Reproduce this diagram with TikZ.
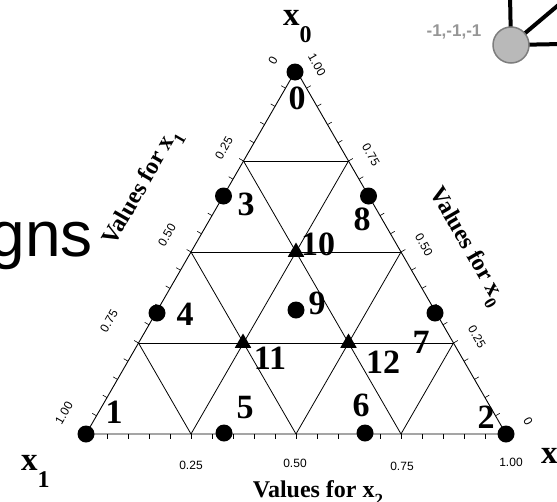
\documentclass[tikz,border=0pt]{standalone}
\usepackage{fontspec}
\setmainfont{Liberation Serif}
\setsansfont{Liberation Sans}
\usetikzlibrary{shapes.geometric}
\definecolor{ballfill}{RGB}{185,185,185}
\definecolor{ballline}{RGB}{125,125,125}
\definecolor{labgray}{RGB}{150,150,150}
\begin{document}
\begin{tikzpicture}[x=1pt,y=-1pt,
  edge/.style={line width=0.9pt},
  gridline/.style={line width=0.8pt},
  tickmark/.style={line width=0.6pt},
  dotpt/.style={circle,fill=black,inner sep=0pt,minimum size=17pt},
  tript/.style={regular polygon,regular polygon sides=3,fill=black,inner sep=0pt,minimum size=19pt},
  num/.style={font=\fontsize{34}{34}\selectfont\bfseries,inner sep=0pt},
  ticklab/.style={font=\sffamily\fontsize{12}{12}\selectfont,inner sep=0pt},
  axlab/.style={font=\fontsize{24}{24}\selectfont\bfseries,inner sep=0pt},
  cornerlab/.style={font=\fontsize{33}{33}\selectfont\bfseries,inner sep=0pt},
]
\fill[white] (0,0) rectangle (557,501);
\useasboundingbox (0,0) rectangle (557,501);

% slide title fragment
\node[font=\sffamily\fontsize{64}{64}\selectfont,inner sep=0pt,anchor=base east] (title) at (93,256) {gns};

% corner decoration
\coordinate (up) at (510,-5);
\coordinate (diag) at (562,2);
\coordinate (right) at (562,44);
\node[circle,minimum size=36pt,inner sep=0pt] (ballpos) at (511,45) {};
\draw[line width=4pt] (ballpos.center) -- (up);
\draw[line width=4pt] (ballpos.center) -- (diag);
\draw[line width=4pt] (ballpos.center) -- (right);
\node[circle,minimum size=36pt,inner sep=0pt,fill=ballfill,draw=ballline,line width=1.5pt] (ball) at (511,45) {};
\node[font=\sffamily\bfseries\fontsize{17}{17}\selectfont,text=labgray,inner sep=0pt] (balllab) at (454,32) {-1,-1,-1};

% triangle corners and grid points
\coordinate (A) at (296,70);
\coordinate (B) at (86,434);
\coordinate (C) at (506,434);
\coordinate (L1) at (243.5,161);
\coordinate (L2) at (191,252);
\coordinate (L3) at (138.5,343);
\coordinate (R1) at (348.5,161);
\coordinate (R2) at (401,252);
\coordinate (R3) at (453.5,343);
\coordinate (b1) at (191,434);
\coordinate (b2) at (296,434);
\coordinate (b3) at (401,434);

\draw[gridline] (L1) -- (R1) (L2) -- (R2) (L3) -- (R3);
\draw[gridline] (b1) -- (R1) (b2) -- (R2) (b3) -- (R3);
\draw[gridline] (b3) -- (L1) (b2) -- (L2) (b1) -- (L3);
\draw[edge] (A) -- (B) -- (C) -- cycle;

% ticks
\foreach \i in {0,...,20} {
  \draw[tickmark] ({296-10.5*\i},{70+18.2*\i}) -- ++(-4.3,-2.5);
  \draw[tickmark] ({296+10.5*\i},{70+18.2*\i}) -- ++(4.3,-2.5);
  \draw[tickmark] ({86+21*\i},434) -- ++(0,5);
}

% tick labels, left edge (x1)
\node[ticklab,rotate=60] (tl0) at (273,61) {0};
\node[ticklab,rotate=60] (tl1) at (224,148) {0.25};
\node[ticklab,rotate=60] (tl2) at (167,235) {0.50};
\node[ticklab,rotate=60] (tl3) at (109,321) {0.75};
\node[ticklab,rotate=60] (tl4) at (64,413) {1.00};
% right edge (x0)
\node[ticklab,rotate=-60] (tr0) at (317,65) {1.00};
\node[ticklab,rotate=-60] (tr1) at (371,155) {0.75};
\node[ticklab,rotate=-60] (tr2) at (424,245) {0.50};
\node[ticklab,rotate=-60] (tr3) at (477,337) {0.25};
\node[ticklab,rotate=-60] (tr4) at (528,421) {0};
% bottom edge (x2)
\node[ticklab] (tb1) at (191,465) {0.25};
\node[ticklab] (tb2) at (295,463) {0.50};
\node[ticklab] (tb3) at (402,466) {0.75};
\node[ticklab] (tb4) at (511,462) {1.00};

% axis titles
\node[axlab,rotate=60] (axl) at (143,188) {Values for x\raisebox{-0.35em}{\fontsize{17}{17}\selectfont 1}};
\node[axlab,rotate=-60] (axr) at (466,247) {Values for x\raisebox{-0.35em}{\fontsize{17}{17}\selectfont 0}};
\node[axlab,anchor=base] (axb) at (318,497) {Values for x\raisebox{-0.35em}{\fontsize{17}{17}\selectfont 2}};

% corner labels
\node[cornerlab,anchor=base west] (cx0) at (283,25) {x\raisebox{-17pt}{\fontsize{24}{24}\selectfont 0}};
\node[cornerlab,anchor=base west] (cx1) at (21,470) {x\raisebox{-17pt}{\fontsize{24}{24}\selectfont 1}};
\node[cornerlab,anchor=base west] (cx2) at (541,463) {x};

% design points
\node[dotpt] (d0) at (295,72) {};
\node[dotpt] (d1) at (B) {};
\node[dotpt] (d2) at (C) {};
\node[dotpt] (d3) at (223.5,196) {};
\node[dotpt] (d4) at (157,313) {};
\node[dotpt] (d5) at (224,433) {};
\node[dotpt] (d6) at (365,433) {};
\node[dotpt] (d7) at (435,313) {};
\node[dotpt] (d8) at (368.5,196) {};
\node[dotpt] (d9) at (296,310) {};
\node[tript] (t10) at (296,252) {};
\node[tript] (t11) at (243,343) {};
\node[tript] (t12) at (348.5,343) {};

% point numbers
\node[num] (n0) at (297,98) {0};
\node[num] (n1) at (114,412) {1};
\node[num] (n2) at (486,417) {2};
\node[num] (n3) at (246,204) {3};
\node[num] (n4) at (185,314) {4};
\node[num] (n5) at (245,408) {5};
\node[num] (n6) at (361,405) {6};
\node[num] (n7) at (421,342) {7};
\node[num] (n8) at (362,219) {8};
\node[num] (n9) at (317,303) {9};
\node[num] (n10) at (318,244) {10};
\node[num] (n11) at (270,358) {11};
\node[num] (n12) at (383,362) {12};
\end{tikzpicture}
\end{document}
